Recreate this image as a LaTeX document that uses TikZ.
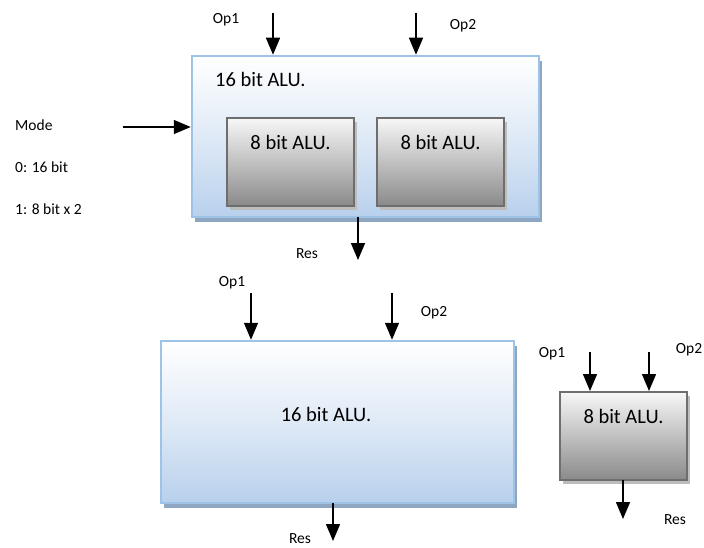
\documentclass[tikz,border=0pt]{standalone}
\usepackage{fontspec}
\setmainfont{Carlito}
\usetikzlibrary{arrows.meta}
\definecolor{bluebd}{HTML}{9DC3E6}
\definecolor{bluebot}{HTML}{B8D0EC}
\definecolor{blueshd}{HTML}{8FA6C2}
\definecolor{graybd}{HTML}{6E6E6E}
\definecolor{graytop}{HTML}{F7F7F7}
\definecolor{graybot}{HTML}{8A8A8A}
\definecolor{grayshd}{HTML}{BDBDBD}
\tikzset{
  bigbox/.style={draw=bluebd, line width=2.5pt, top color=white, bottom color=bluebot,
    middle color=white!55!bluebot, rectangle, inner sep=0pt,
    preaction={fill=blueshd, transform canvas={xshift=3pt,yshift=-5pt}}},
  smallbox/.style={draw=graybd, line width=2pt, top color=graytop, bottom color=graybot,
    rectangle, inner sep=0pt, minimum width=127pt, minimum height=88pt,
    preaction={fill=grayshd, transform canvas={xshift=3pt,yshift=-4pt}}},
  bigtxt/.style={font=\fontsize{20.5}{24}\selectfont},
  smalltxt/.style={font=\fontsize{15.5}{18}\selectfont, inner sep=0pt},
  arr/.style={line width=1.5pt, -{Triangle[width=14pt,length=17pt]}},
}
\begin{document}
\begin{tikzpicture}[x=1pt,y=-1pt]
\useasboundingbox[fill=white] (0,0) rectangle (704,548);
% ---------- top section ----------
\node[bigbox, minimum width=347pt, minimum height=161pt] (top) at (365.5,136.5) {};
\node[bigtxt, anchor=west, inner sep=0pt] (toptxt) at (215,79) {16 bit ALU.};
\node[smallbox] (alua) at (290.5,162) {};
\node[bigtxt] (aluatxt) at (290.5,142) {8 bit ALU.};
\node[smallbox] (alub) at (440.5,162) {};
\node[bigtxt] (alubtxt) at (440.5,142) {8 bit ALU.};

\node[smalltxt] (op1t) at (226,20) {Op1};
\node[smalltxt] (op2t) at (463,26) {Op2};
\coordinate (op1s) at (273,13);
\coordinate (op2s) at (416,13);
\draw[arr] (op1s) -- (op1s |- top.north);
\draw[arr] (op2s) -- (op2s |- top.north);

\node[smalltxt, anchor=west] (mode) at (15,125) {Mode};
\node[smalltxt, anchor=west] (m0) at (15,167) {0: 16 bit};
\node[smalltxt, anchor=west] (m1) at (15,209) {1: 8 bit x 2};
\coordinate (modes) at (123,127);
\draw[arr] (modes) -- (modes -| top.west);

\coordinate (ress) at (358,217);
\coordinate (rese) at (358,260);
\draw[arr] (ress) -- (rese);
\node[smalltxt] (rest) at (307,254) {Res};

% ---------- bottom left ----------
\node[bigbox, minimum width=353pt, minimum height=162pt] (big) at (337.5,422) {};
\node[bigtxt] (bigtxtn) at (326,414) {16 bit ALU.};
\node[smalltxt] (bop1t) at (232,283) {Op1};
\node[smalltxt] (bop2t) at (434,313) {Op2};
\coordinate (bop1s) at (251,293);
\coordinate (bop2s) at (392,293);
\draw[arr] (bop1s) -- (bop1s |- big.north);
\draw[arr] (bop2s) -- (bop2s |- big.north);
\coordinate (bress) at (333,503);
\coordinate (brese) at (333,541);
\draw[arr] (bress) -- (brese);
\node[smalltxt] (brest) at (300,539) {Res};

% ---------- bottom right ----------
\node[smallbox] (alu8) at (623.5,436) {};
\node[bigtxt] (alu8txt) at (623.5,416) {8 bit ALU.};
\node[smalltxt] (sop1t) at (552,354) {Op1};
\node[smalltxt] (sop2t) at (689,350) {Op2};
\coordinate (sop1s) at (590,352);
\coordinate (sop2s) at (649,352);
\draw[arr] (sop1s) -- (sop1s |- alu8.north);
\draw[arr] (sop2s) -- (sop2s |- alu8.north);
\coordinate (sress) at (623,480);
\coordinate (srese) at (623,519);
\draw[arr] (sress) -- (srese);
\node[smalltxt] (srest) at (675,520) {Res};
\end{tikzpicture}
\end{document}
